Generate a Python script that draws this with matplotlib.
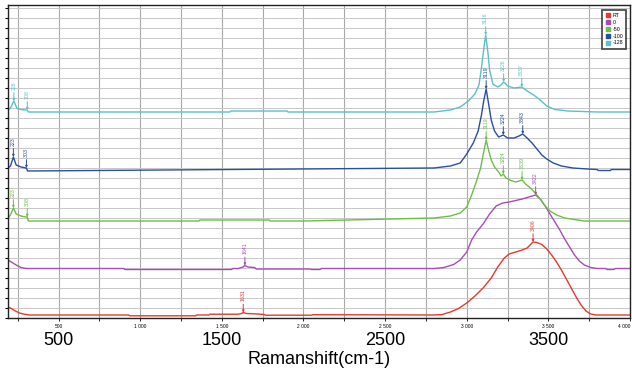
import numpy as np
import matplotlib.pyplot as plt
from matplotlib.lines import Line2D

plt.rcParams['font.family'] = ['Liberation Sans', 'DejaVu Sans']

# Raman spectra, stacked (wavenumber in cm-1, intensity in offset units)
wn_rt = [190, 205, 230, 260, 290, 320, 930, 935, 1340, 1345, 1420, 1425, 1600, 1620, 1631,
         1650, 1700, 1760, 1765, 2050, 2060, 2800, 2850, 2900, 2950, 3000, 3050, 3100, 3150,
         3190, 3230, 3260, 3300, 3340, 3370, 3400, 3406, 3430, 3460, 3490, 3520, 3550, 3580,
         3610, 3640, 3670, 3700, 3730, 3760, 3790, 4000]
int_rt = [1.1, 1.0, 0.75, 0.5, 0.38, 0.3, 0.3, 0.22, 0.22, 0.3, 0.3, 0.38, 0.38, 0.45, 0.55,
          0.45, 0.42, 0.35, 0.28, 0.28, 0.33, 0.3, 0.35, 0.6, 0.95, 1.5, 2.2, 3.0, 4.0,
          5.1, 6.0, 6.4, 6.6, 6.8, 7.0, 7.5, 7.6, 7.55, 7.35, 6.9, 6.3, 5.6, 4.8,
          3.9, 3.0, 2.1, 1.3, 0.7, 0.4, 0.3, 0.3]

wn_0 = [190, 210, 240, 270, 300, 900, 905, 1560, 1565, 1600, 1630, 1641, 1660, 1700, 1710,
        2040, 2050, 2100, 2110, 2800, 2860, 2920, 2960, 3000, 3030, 3060, 3100, 3140, 3180,
        3220, 3260, 3300, 3340, 3380, 3422, 3450, 3480, 3510, 3540, 3570, 3600, 3630, 3660,
        3690, 3720, 3760, 3800, 3850, 3860, 3900, 3910, 4000]
int_0 = [5.8, 5.6, 5.3, 5.05, 4.95, 4.95, 4.85, 4.85, 4.95, 4.95, 5.1, 5.25, 5.1, 5.05, 4.9,
         4.9, 4.85, 4.85, 4.95, 4.95, 5.05, 5.35, 5.8, 6.6, 7.8, 8.6, 9.4, 10.4, 11.2,
         11.5, 11.6, 11.75, 11.9, 12.1, 12.3, 11.9, 11.2, 10.4, 9.6, 8.8, 7.9, 7.1, 6.3,
         5.7, 5.3, 5.05, 4.95, 4.95, 4.85, 4.85, 4.95, 4.95]

wn_50 = [190, 205, 223, 240, 270, 300, 308, 315, 1360, 1365, 1790, 1795, 2000, 2005, 2800,
         2900, 2960, 3000, 3030, 3060, 3085, 3100, 3119, 3135, 3150, 3170, 3200, 3210, 3224,
         3240, 3270, 3300, 3339, 3360, 3390, 3420, 3450, 3480, 3510, 3550, 3600, 3680, 3720,
         4000]
int_50 = [10.0, 10.3, 11.0, 10.4, 10.2, 10.1, 10.1, 9.7, 9.7, 9.8, 9.8, 9.7, 9.7, 9.7, 10.0,
          10.2, 10.5, 11.1, 12.3, 13.7, 15.0, 16.3, 17.8, 16.7, 15.8, 15.1, 14.5, 14.2, 14.4,
          14.0, 13.75, 13.6, 13.8, 13.4, 13.0, 12.5, 11.9, 11.2, 10.7, 10.3, 10.0, 9.8, 9.7,
          9.7]

wn_100 = [190, 205, 223, 240, 270, 300, 303, 310, 2800, 2900, 2960, 3000, 3040, 3070, 3090,
          3105, 3119, 3132, 3150, 3170, 3195, 3224, 3250, 3290, 3320, 3343, 3370, 3400, 3430,
          3460, 3490, 3530, 3580, 3650, 3740, 3800, 3805, 3880, 3885, 4000]
int_100 = [15.0, 15.2, 16.1, 15.3, 15.1, 15.0, 15.0, 14.7, 15.0, 15.2, 15.5, 16.4, 17.5, 18.7, 20.3,
           21.8, 22.9, 21.6, 19.8, 18.7, 18.1, 18.3, 18.0, 18.0, 18.2, 18.4, 18.0, 17.5, 16.9,
           16.3, 15.9, 15.5, 15.2, 15.0, 14.9, 14.85, 14.75, 14.75, 14.85, 14.85]

wn_128 = [190, 205, 226, 245, 270, 300, 308, 315, 1550, 1555, 1900, 1905, 2800, 2900, 2960,
          3010, 3050, 3075, 3090, 3105, 3116, 3128, 3140, 3160, 3190, 3210, 3226, 3250, 3290,
          3337, 3370, 3410, 3450, 3490, 3540, 3620, 3800, 4000]
int_128 = [20.8, 21.0, 21.7, 20.95, 20.85, 20.8, 20.8, 20.6, 20.6, 20.7, 20.7, 20.6, 20.6, 20.8, 21.1,
           21.7, 22.4, 23.3, 25.0, 27.0, 28.3, 26.8, 24.8, 23.4, 23.1, 23.3, 23.6, 23.2, 23.0,
           23.1, 22.7, 22.3, 21.8, 21.2, 20.85, 20.7, 20.6, 20.6]

series_names = ['RT', '0', '-50', '-100', '-128']
series_colors = ['#e8392b', '#a64cb8', '#6cbf45', '#2a4ea6', '#58c2c6']

# labelled peaks per series: (wavenumber, label)
peaks = {
    'RT': [(1631, '1631'), (3406, '3406')],
    '0': [(1641, '1641'), (3422, '3422')],
    '-50': [(223, '223'), (308, '308'), (3119, '3119'), (3224, '3224'), (3339, '3339')],
    '-100': [(223, '223'), (303, '303'), (3119, '3119'), (3224, '3224'), (3343, '3343')],
    '-128': [(226, '226'), (308, '308'), (3116, '3116'), (3226, '3226'), (3337, '3337')],
}

data = {
    'RT': (wn_rt, int_rt),
    '0': (wn_0, int_0),
    '-50': (wn_50, int_50),
    '-100': (wn_100, int_100),
    '-128': (wn_128, int_128),
}

fig = plt.figure(figsize=(6.32, 3.77), dpi=100)
ax = fig.add_axes([8 / 632, 1 - 318 / 377, 622 / 632, 313 / 377])

for name, color in zip(series_names, series_colors):
    x, y = data[name]
    ax.plot(x, y, color=color, lw=1.0)
    for px, lab in peaks[name]:
        py = np.interp(px, x, y)
        ax.annotate(lab, xy=(px, py), xytext=(0, 8), textcoords='offset points',
                    rotation=90, ha='center', va='bottom', fontsize=3.8, color=color,
                    arrowprops=dict(arrowstyle='-|>', color=color, lw=0.7,
                                    mutation_scale=3, shrinkA=0, shrinkB=0))

ax.set_xlim(190, 4000)
ax.set_ylim(0, 31.3)

# tiny instrument-style tick labels on the axis itself
ax.set_xticks(np.arange(500, 4001, 500))
ax.set_xticklabels(['500', '1 000', '1 500', '2 000', '2 500', '3 000', '3 500', '4 000'],
                   fontsize=3.5)
ax.get_xticklabels()[-1].set_ha('right')
ax.set_xticks(np.arange(250, 4001, 250), minor=True)
ax.set_yticks(np.arange(0, 31.3, 1))
ax.set_yticklabels([])
ax.tick_params(axis='x', which='both', length=2, width=0.6, pad=2)
ax.tick_params(axis='y', length=2.5, width=0.8)

ax.grid(True, which='both', axis='x', color='#a8a8a8', lw=0.8)
ax.grid(True, axis='y', color='#c8c8c8', lw=0.7)
ax.set_axisbelow(True)
for s in ax.spines.values():
    s.set_color('#222222')
    s.set_linewidth(1.0)

# large labels below the axis
sec = ax.secondary_xaxis('bottom')
sec.set_xticks([500, 1500, 2500, 3500])
sec.set_xticklabels(['500', '1500', '2500', '3500'], fontsize=13)
sec.tick_params(length=0, pad=10)
sec.spines['bottom'].set_visible(False)
sec.set_xlabel('Ramanshift(cm-1)', fontsize=13, labelpad=1.5)

handles = [Line2D([], [], ls='none', marker='s', ms=2.5, color=c) for c in series_colors]
leg = ax.legend(handles, series_names, loc='upper right', fontsize=3.8, frameon=True,
                fancybox=False, borderpad=0.6, handletextpad=0.3, labelspacing=0.35,
                handlelength=1.0, bbox_to_anchor=(0.9985, 0.993))
leg.get_frame().set_edgecolor('#222222')
leg.get_frame().set_linewidth(1.3)

fig.savefig('out.png', dpi=100)
